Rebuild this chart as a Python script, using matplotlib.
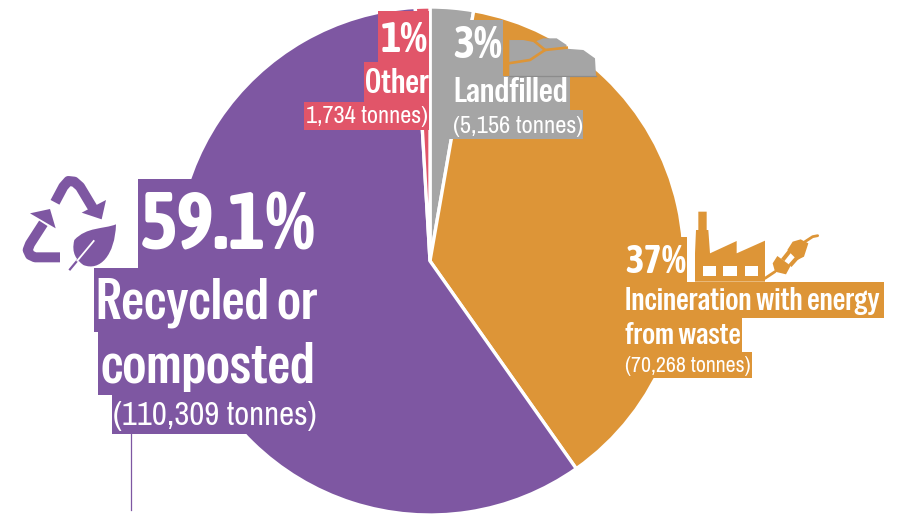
import matplotlib
matplotlib.use('Agg')
import matplotlib.pyplot as plt
from matplotlib.patches import PathPatch, Polygon, Rectangle
from matplotlib.path import Path

BOLD_FONT = ['Special Gothic Condensed One', 'DejaVu Sans']
BOOK_FONT = ['Archivo Narrow', 'DejaVu Sans']
FIGURE_FONT = ['Asap Condensed', 'DejaVu Sans']

# waste treatment tonnages, clockwise from 12 o'clock
categories = ['Landfilled', 'Incineration with energy from waste', 'Recycled or composted', 'Other']
tonnes = [5156, 70268, 110309, 1734]
colors = ['#A5A5A5', '#DD9537', '#7E57A2', '#E15569']

PURPLE, ORANGE, GREY, RED = colors[2], colors[1], colors[0], colors[3]
W, H = 897, 519
CX, CY, R = 430, 261, 254

fig = plt.figure(figsize=(W / 100, H / 100), dpi=100, facecolor='white')

# pie axes sized so that data radius 1 is R pixels
ax = fig.add_axes([(CX - R) / W, 1 - (CY + R) / H, 2 * R / W, 2 * R / H])
ax.pie(tonnes, colors=colors, startangle=90, counterclock=False,
       wedgeprops=dict(edgecolor='white', linewidth=2.4))
ax.set_xlim(-1, 1)
ax.set_ylim(-1, 1)
ax.axis('off')
for w in ax.patches:
    w.set_clip_on(False)

# overlay in pixel coordinates for label blocks and icons
ov = fig.add_axes([0, 0, 1, 1])
ov.set_xlim(0, W)
ov.set_ylim(H, 0)
ov.axis('off')
ov.patch.set_alpha(0)
renderer = fig.canvas.get_renderer()


def block(x0, y0, x1, y1, color):
    ov.add_patch(Rectangle((x0, y0), x1 - x0, y1 - y0, fc=color, ec='none'))


def label(x0, x1, y, s, size, font=BOLD_FONT, weight='normal'):
    # font size is scaled so the string spans x0..x1
    t = ov.text(x0, y, s, color='white', fontsize=size, va='baseline', ha='left',
                family=font, fontweight=weight)
    t.set_fontsize(size * (x1 - x0) / t.get_window_extent(renderer).width)


def zoomed(pts, ox, oy):
    return [(ox + px / 3, oy + py / 3) for px, py in pts]


def line(pts, ox, oy, **kw):
    ov.plot(*zip(*zoomed(pts, ox, oy)), **kw)


def poly(pts, ox, oy, color):
    ov.add_patch(Polygon(zoomed(pts, ox, oy), fc=color, ec='none'))


# label background blocks
block(138, 179, 320, 268, PURPLE)
block(94, 268, 320, 332, PURPLE)
block(98, 332, 320, 395, PURPLE)
block(112, 395, 320, 434, PURPLE)
ov.plot([131, 131], [434, 510], color=PURPLE, lw=0.9)

block(378, 11, 429, 62, RED)
block(364, 62, 429, 102, RED)
block(304, 102, 429, 130, RED)

block(432, 20, 503, 76, GREY)
block(432, 76, 570, 110, GREY)
block(432, 110, 583, 139, GREY)

block(620, 237, 687, 282, ORANGE)
block(620, 282, 884, 318, ORANGE)
block(620, 318, 742, 352, ORANGE)
block(620, 352, 752, 378, ORANGE)

# recycling arrows and leaf
arrow_style = dict(color=PURPLE, lw=7.2, solid_capstyle='butt', solid_joinstyle='round')
ox, oy = 15, 170
line([(120, 97), (145, 50), (160, 33), (178, 35), (195, 50), (240, 125)], ox, oy, **arrow_style)
line([(135, 262), (60, 262), (45, 255), (38, 240), (45, 222), (85, 160)], ox, oy, **arrow_style)
poly([(273, 90), (260, 148), (200, 128)], ox, oy, PURPLE)
poly([(45, 130), (105, 117), (122, 175)], ox, oy, PURPLE)
leaf = zoomed([(303, 163), (265, 178), (215, 170), (178, 210), (168, 250), (185, 270), (205, 285),
               (255, 305), (300, 255), (303, 163)], ox, oy)
codes = [Path.MOVETO] + [Path.CURVE4] * 9
ov.add_patch(PathPatch(Path(leaf, codes), fc=PURPLE, ec='none'))
line([(165, 298), (195, 262)], ox, oy, color=PURPLE, lw=1.6)
line([(187, 272), (236, 213)], ox, oy, color='white', lw=1.3)

# landfill cross-section
ox, oy = 290, 0
ground = [(658, 118), (700, 118), (735, 125), (760, 115), (800, 115), (830, 135), (828, 146),
          (880, 150), (915, 175), (918, 228), (658, 228)]
poly(ground, ox, oy, GREY)
line([(658, 228), (918, 228)], ox, oy, color='#8C8C8C', lw=0.9)
crack = dict(color=ORANGE, lw=1.9, solid_joinstyle='round')
line([(655, 190), (720, 180), (765, 150), (735, 125)], ox, oy, **crack)
line([(765, 150), (830, 143)], ox, oy, **crack)
line([(660, 118), (700, 118), (735, 125)], ox, oy, color=ORANGE, lw=1.0)

# factory and plug
ox, oy = 600, 200
factory = [(285, 245), (285, 160), (288, 90), (295, 90), (295, 35), (320, 35), (320, 90), (325, 90),
           (330, 160), (410, 123), (410, 160), (495, 122), (495, 245)]
poly(factory, ox, oy, ORANGE)
for x0, x1 in [(308, 347), (370, 410), (435, 473)]:
    poly([(x0, 198), (x1, 198), (x1, 228), (x0, 228)], ox, oy, 'white')

ox, oy = 760, 225
poly([(38, 115), (52, 93), (92, 122), (78, 148), (45, 140)], ox, oy, ORANGE)
poly([(98, 50), (122, 43), (145, 55), (132, 95), (112, 105), (82, 75)], ox, oy, ORANGE)
prong = dict(color=ORANGE, lw=2.9, solid_capstyle='butt')
line([(68, 105), (92, 75)], ox, oy, **prong)
line([(90, 122), (114, 95)], ox, oy, **prong)
cord = dict(color=ORANGE, lw=2, solid_capstyle='round', solid_joinstyle='round')
line([(135, 50), (158, 35), (173, 32)], ox, oy, **cord)
line([(15, 160), (45, 140)], ox, oy, **cord)

# text
label(140, 316, 250, '59.1%', 52, FIGURE_FONT, 700)
label(96, 318, 319, 'Recycled or', 40)
label(100, 315, 383, 'composted', 40)
label(113, 316, 425, '(110,309 tonnes)', 21, BOOK_FONT)

label(381, 428, 52, '1%', 28, FIGURE_FONT, 700)
label(365, 429, 93, 'Other', 22)
label(306, 428, 123, '1,734 tonnes)', 16, BOOK_FONT)

label(453, 502, 58, '3%', 28, FIGURE_FONT, 700)
label(453, 568, 102, 'Landfilled', 22)
label(453, 583, 133, '(5,156 tonnes)', 16, BOOK_FONT)

label(625, 686, 273, '37%', 28, FIGURE_FONT, 700)
label(625, 880, 310, 'Incineration with energy', 20)
label(625, 741, 344, 'from waste', 20)
label(625, 751, 372, '(70,268 tonnes)', 15, BOOK_FONT)

fig.savefig('out.png', dpi=100, facecolor='white')
